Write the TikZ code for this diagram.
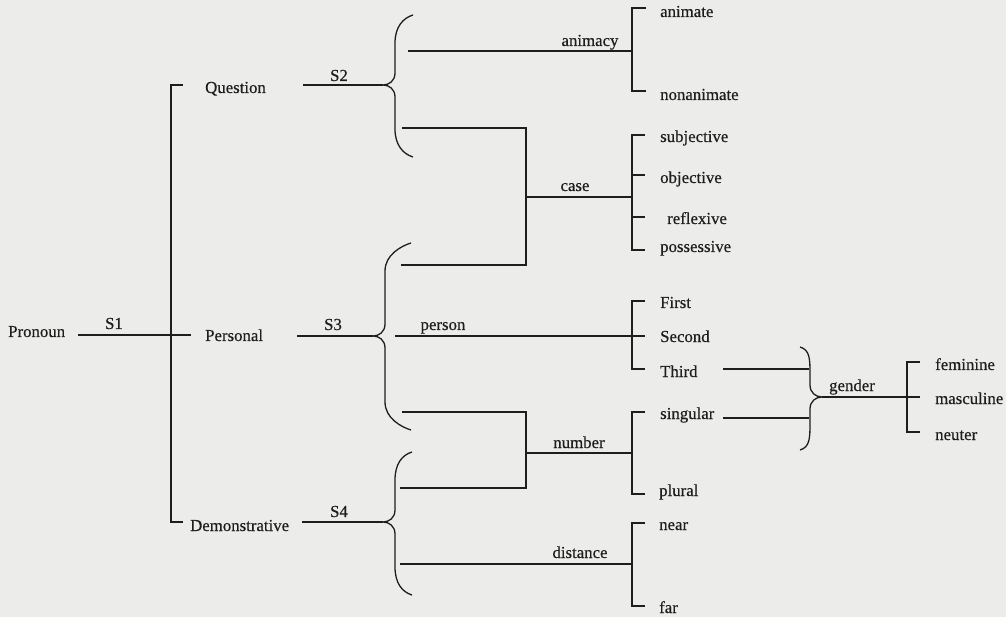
\documentclass[tikz,border=0pt]{standalone}
\usepackage{fontspec}
\setmainfont{Liberation Serif}
\newfontfamily\scanfont{Liberation Serif}[FakeBold=0.5]
\definecolor{paper}{RGB}{236,236,234}
\definecolor{ink}{RGB}{30,30,30}
\tikzset{
  lbl/.style={inner sep=0pt, text=ink, font=\scanfont\fontsize{16.8}{20}\selectfont},
  leaf/.style={lbl, anchor=base west},
  tag/.style={lbl, anchor=base},
  wire/.style={draw=ink, line width=1.4pt},
  % curly brace opening to the right; tip at the pic origin
  % #1 = reach upwards, #2 = reach downwards, #3 = width to the ends
  pics/curly/.style n args={3}{code={
    \draw[wire, line width=1.3pt]
      (#3,{-#1}) .. controls ({#3-10},{-#1+3}) and (12,{-#1+12}) .. (12,{-#1+28})
      -- (12,-12) .. controls (12,-4) and (6,0) .. (0,0)
      .. controls (6,0) and (12,4) .. (12,12)
      -- (12,{#2-28}) .. controls (12,{#2-12}) and ({#3-10},{#2-3}) .. (#3,{#2});
  }}
}
\begin{document}
\begin{tikzpicture}[x=1pt,y=-1pt]
  \fill[paper] (0,0) rectangle (1006,617);
  \useasboundingbox (0,0) rectangle (1006,617);

  % ---- root and first split ----
  \node[leaf] (pronoun) at (8,337) {Pronoun};
  \node[tag] (s1) at (114,329) {S1};
  \node[leaf] (question) at (205,93) {Question};
  \node[leaf] (personal) at (205,341) {Personal};
  \node[leaf] (demonstrative) at (190,531) {Demonstrative};

  \coordinate (s1start) at (78,335);
  \coordinate (s1end) at (191,335);
  \coordinate (qtick) at (183,85);
  \coordinate (dtick) at (183,522);
  \draw[wire] (s1start) -- (s1end);
  \draw[wire] (qtick) -- ++(-12,0) |- (dtick);

  % ---- second-level braces ----
  \node[tag] (s2) at (339,81) {S2};
  \node[tag] (s3) at (333,330) {S3};
  \node[tag] (s4) at (339,517) {S4};

  \coordinate (b2) at (383,85);
  \coordinate (b3) at (373,336);
  \coordinate (b4) at (383,522);
  \pic at (b2) {curly={70}{72}{30}};
  \pic at (b3) {curly={93}{94}{38}};
  \pic at (b4) {curly={70}{73}{29}};

  \coordinate (s2start) at (303,85);
  \coordinate (s3start) at (297,336);
  \coordinate (s4start) at (302,522);
  \draw[wire] (s2start) -- (b2);
  \draw[wire] (s3start) -- (b3);
  \draw[wire] (s4start) -- (b4);

  % ---- features ----
  \node[tag] (animacy) at (590,46) {animacy};
  \node[tag] (case) at (575,191) {case};
  \node[tag] (person) at (443,330) {person};
  \node[tag] (number) at (579,448) {number};
  \node[tag] (distance) at (580,558) {distance};

  % animacy
  \coordinate (anim) at (632,51);
  \draw[wire] (408,51) -- (anim);
  \draw[wire] (646,8) -| (632,91) -- (646,91);

  % case (shared by S2 and S3)
  \coordinate (casej) at (526,197);
  \coordinate (cases) at (632,197);
  \draw[wire] (402,128) -| (526,265) -- (401,265);
  \draw[wire] (casej) -- (cases);
  \draw[wire] (645,135) -| (632,250) -- (645,250);
  \draw[wire] (632,175) -- (645,175);
  \draw[wire] (632,217) -- (645,217);

  % person
  \coordinate (pers) at (395,336);
  \draw[wire] (pers) -- (645,336);
  \draw[wire] (645,301) -| (632,369) -- (645,369);

  % number (shared by S3 and S4)
  \coordinate (numj) at (526,453);
  \coordinate (nums) at (632,453);
  \draw[wire] (402,412) -| (526,488) -- (400,488);
  \draw[wire] (numj) -- (nums);
  \draw[wire] (645,412) -| (632,494) -- (645,494);

  % distance
  \coordinate (dist) at (632,564);
  \draw[wire] (400,564) -- (dist);
  \draw[wire] (645,523) -| (632,606) -- (645,606);

  % ---- values ----
  \node[leaf] (animate) at (660,17) {animate};
  \node[leaf] (nonanimate) at (660,100) {nonanimate};
  \node[leaf] (subjective) at (660,142) {subjective};
  \node[leaf] (objective) at (660,183) {objective};
  \node[leaf] (reflexive) at (667,224) {reflexive};
  \node[leaf] (possessive) at (660,252) {possessive};
  \node[leaf] (first) at (660,308) {First};
  \node[leaf] (second) at (660,342) {Second};
  \node[leaf] (third) at (660,377) {Third};
  \node[leaf] (singular) at (660,419) {singular};
  \node[leaf] (plural) at (659,496) {plural};
  \node[leaf] (near) at (659,530) {near};
  \node[leaf] (far) at (659,613) {far};

  % ---- gender, conditioned on Third + singular ----
  \coordinate (bg) at (822,397);
  \coordinate (thirdout) at (723,369);
  \coordinate (singout) at (723,418);
  \pic[xscale=-1] at (bg) {curly={50}{53}{22}};
  \draw[wire] (thirdout) -- (809,369);
  \draw[wire] (singout) -- (809,418);
  \node[tag] (gender) at (852,391) {gender};
  \draw[wire] (bg) -- (920,397);
  \draw[wire] (920,362) -| (907,432) -- (920,432);

  \node[leaf] (feminine) at (935,370) {feminine};
  \node[leaf] (masculine) at (935,404) {masculine};
  \node[leaf] (neuter) at (935,440) {neuter};
\end{tikzpicture}
\end{document}
